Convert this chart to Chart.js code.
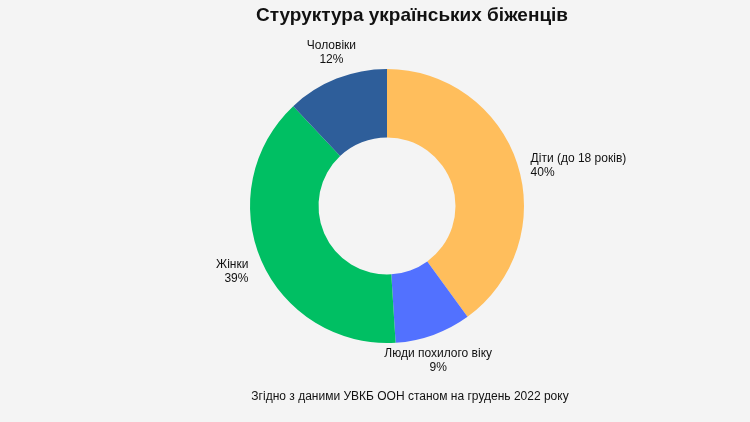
<!DOCTYPE html>
<html><head><meta charset="utf-8">
<script src="https://cdn.jsdelivr.net/npm/chart.js@4"></script>
<style>body{margin:0;background:#F4F4F4}canvas{display:block}</style>
</head><body>
<canvas id="c" width="750" height="422"></canvas>
<script>
const categories = ["Діти (до 18 років)", "Люди похилого віку", "Жінки", "Чоловіки"];
const values = [40, 9, 39, 12];
const colors = ["#FFBE5C", "#5271FF", "#00BF63", "#2E5E9A"];

const labelPlugin = {
  id: 'lbl',
  beforeDraw(chart) {
    const c = chart.ctx;
    c.save(); c.fillStyle = '#F4F4F4'; c.fillRect(0,0,chart.width,chart.height); c.restore();
  },
  afterDraw(chart) {
    const c = chart.ctx;
    c.save();
    c.fillStyle = '#111';
    c.textAlign = 'center'; c.textBaseline = 'middle';
    c.font = 'bold 19px "Liberation Sans", Arial, sans-serif';
    c.fillText('Стуруктура українських біженців', 412, 16);
    c.font = '12px "Liberation Sans", Arial, sans-serif';
    c.fillText('Згідно з даними УВКБ ООН станом на грудень 2022 року', 410, 397);
    const meta = chart.getDatasetMeta(0);
    meta.data.forEach((arc, i) => {
      const a = (arc.startAngle + arc.endAngle) / 2;
      const r = arc.outerRadius + 14;
      const sx = Math.cos(a), sy = Math.sin(a);
      let x = arc.x + sx * r, y = arc.y + sy * r;
      const lines = [categories[i], values[i] + '%'];
      if (Math.abs(sx) < 0.5) {
        c.textAlign = 'center';
        if (sy < 0) y -= 26; else y += 0;
      } else {
        c.textAlign = sx > 0 ? 'left' : 'right';
        y -= 7;
      }
      c.fillText(lines[0], x, y + 6);
      c.fillText(lines[1], x, y + 20);
    });
    c.restore();
  }
};

new Chart(document.getElementById('c'), {
  type: 'doughnut',
  data: { labels: categories, datasets: [{ data: values, backgroundColor: colors, borderWidth: 0 }] },
  options: {
    responsive: false, animation: false, cutout: '50%',
    layout: { padding: { top: 69, bottom: 79, left: 24, right: 0 } },
    plugins: { legend: { display: false }, tooltip: { enabled: false } }
  },
  plugins: [labelPlugin]
});
</script>
</body></html>
